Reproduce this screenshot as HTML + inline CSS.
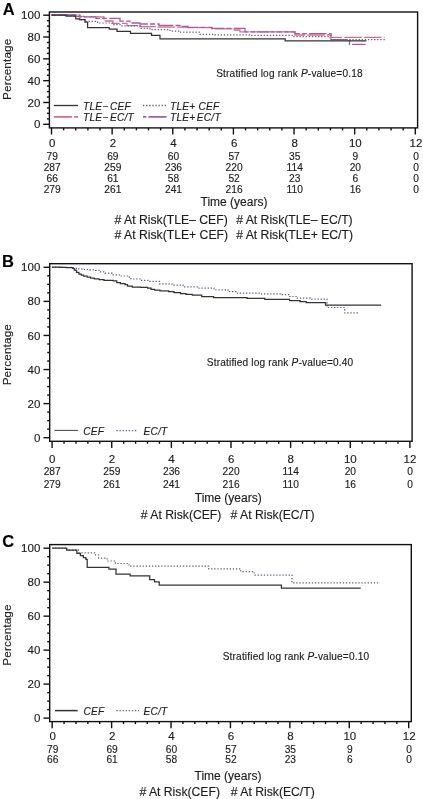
<!DOCTYPE html>
<html><head><meta charset="utf-8"><title>Kaplan-Meier curves</title>
<style>html,body{margin:0;padding:0;background:#fff;}svg{display:block;will-change:transform;filter:blur(0.3px);}text{font-family:"Liberation Sans", sans-serif;stroke:#222;stroke-width:0.15px;}</style>
</head><body>
<svg width="423" height="799" viewBox="0 0 423 799" font-family="'Liberation Sans', sans-serif">
<rect x="0" y="0" width="423" height="799" fill="#fff"/>
<text x="0" y="0" font-size="16.5" font-weight="bold" fill="#000" transform="translate(2.8 14.8)">A</text>
<rect x="49.4" y="12" width="368.2" height="115.9" fill="none" stroke="#111111" stroke-width="1.4"/>
<line x1="43.2" y1="124.3" x2="49.4" y2="124.3" stroke="#111111" stroke-width="1.4"/>
<text x="40.3" y="128.4" font-size="11.5" text-anchor="end" fill="#1c1c1c" >0</text>
<line x1="46.9" y1="118.84" x2="49.4" y2="118.84" stroke="#111111" stroke-width="1.4"/>
<line x1="46.9" y1="113.39" x2="49.4" y2="113.39" stroke="#111111" stroke-width="1.4"/>
<line x1="46.9" y1="107.94" x2="49.4" y2="107.94" stroke="#111111" stroke-width="1.4"/>
<line x1="43.2" y1="102.48" x2="49.4" y2="102.48" stroke="#111111" stroke-width="1.4"/>
<text x="40.3" y="106.58" font-size="11.5" text-anchor="end" fill="#1c1c1c" >20</text>
<line x1="46.9" y1="97.03" x2="49.4" y2="97.03" stroke="#111111" stroke-width="1.4"/>
<line x1="46.9" y1="91.57" x2="49.4" y2="91.57" stroke="#111111" stroke-width="1.4"/>
<line x1="46.9" y1="86.11" x2="49.4" y2="86.11" stroke="#111111" stroke-width="1.4"/>
<line x1="43.2" y1="80.66" x2="49.4" y2="80.66" stroke="#111111" stroke-width="1.4"/>
<text x="40.3" y="84.76" font-size="11.5" text-anchor="end" fill="#1c1c1c" >40</text>
<line x1="46.9" y1="75.2" x2="49.4" y2="75.2" stroke="#111111" stroke-width="1.4"/>
<line x1="46.9" y1="69.75" x2="49.4" y2="69.75" stroke="#111111" stroke-width="1.4"/>
<line x1="46.9" y1="64.29" x2="49.4" y2="64.29" stroke="#111111" stroke-width="1.4"/>
<line x1="43.2" y1="58.84" x2="49.4" y2="58.84" stroke="#111111" stroke-width="1.4"/>
<text x="40.3" y="62.94" font-size="11.5" text-anchor="end" fill="#1c1c1c" >60</text>
<line x1="46.9" y1="53.38" x2="49.4" y2="53.38" stroke="#111111" stroke-width="1.4"/>
<line x1="46.9" y1="47.93" x2="49.4" y2="47.93" stroke="#111111" stroke-width="1.4"/>
<line x1="46.9" y1="42.47" x2="49.4" y2="42.47" stroke="#111111" stroke-width="1.4"/>
<line x1="43.2" y1="37.02" x2="49.4" y2="37.02" stroke="#111111" stroke-width="1.4"/>
<text x="40.3" y="41.12" font-size="11.5" text-anchor="end" fill="#1c1c1c" >80</text>
<line x1="46.9" y1="31.56" x2="49.4" y2="31.56" stroke="#111111" stroke-width="1.4"/>
<line x1="46.9" y1="26.11" x2="49.4" y2="26.11" stroke="#111111" stroke-width="1.4"/>
<line x1="46.9" y1="20.66" x2="49.4" y2="20.66" stroke="#111111" stroke-width="1.4"/>
<line x1="43.2" y1="15.2" x2="49.4" y2="15.2" stroke="#111111" stroke-width="1.4"/>
<text x="40.3" y="19.3" font-size="11.5" text-anchor="end" fill="#1c1c1c" >100</text>
<line x1="51.5" y1="127.9" x2="51.5" y2="134.5" stroke="#111111" stroke-width="1.4"/>
<text x="52.2" y="146.9" font-size="11.5" text-anchor="middle" fill="#1c1c1c" >0</text>
<line x1="63.63" y1="127.9" x2="63.63" y2="130.4" stroke="#111111" stroke-width="1.4"/>
<line x1="75.75" y1="127.9" x2="75.75" y2="130.4" stroke="#111111" stroke-width="1.4"/>
<line x1="87.88" y1="127.9" x2="87.88" y2="130.4" stroke="#111111" stroke-width="1.4"/>
<line x1="100.01" y1="127.9" x2="100.01" y2="130.4" stroke="#111111" stroke-width="1.4"/>
<line x1="112.13" y1="127.9" x2="112.13" y2="134.5" stroke="#111111" stroke-width="1.4"/>
<text x="112.83" y="146.9" font-size="11.5" text-anchor="middle" fill="#1c1c1c" >2</text>
<line x1="124.26" y1="127.9" x2="124.26" y2="130.4" stroke="#111111" stroke-width="1.4"/>
<line x1="136.39" y1="127.9" x2="136.39" y2="130.4" stroke="#111111" stroke-width="1.4"/>
<line x1="148.51" y1="127.9" x2="148.51" y2="130.4" stroke="#111111" stroke-width="1.4"/>
<line x1="160.64" y1="127.9" x2="160.64" y2="130.4" stroke="#111111" stroke-width="1.4"/>
<line x1="172.77" y1="127.9" x2="172.77" y2="134.5" stroke="#111111" stroke-width="1.4"/>
<text x="173.47" y="146.9" font-size="11.5" text-anchor="middle" fill="#1c1c1c" >4</text>
<line x1="184.89" y1="127.9" x2="184.89" y2="130.4" stroke="#111111" stroke-width="1.4"/>
<line x1="197.02" y1="127.9" x2="197.02" y2="130.4" stroke="#111111" stroke-width="1.4"/>
<line x1="209.15" y1="127.9" x2="209.15" y2="130.4" stroke="#111111" stroke-width="1.4"/>
<line x1="221.27" y1="127.9" x2="221.27" y2="130.4" stroke="#111111" stroke-width="1.4"/>
<line x1="233.4" y1="127.9" x2="233.4" y2="134.5" stroke="#111111" stroke-width="1.4"/>
<text x="234.1" y="146.9" font-size="11.5" text-anchor="middle" fill="#1c1c1c" >6</text>
<line x1="245.53" y1="127.9" x2="245.53" y2="130.4" stroke="#111111" stroke-width="1.4"/>
<line x1="257.65" y1="127.9" x2="257.65" y2="130.4" stroke="#111111" stroke-width="1.4"/>
<line x1="269.78" y1="127.9" x2="269.78" y2="130.4" stroke="#111111" stroke-width="1.4"/>
<line x1="281.91" y1="127.9" x2="281.91" y2="130.4" stroke="#111111" stroke-width="1.4"/>
<line x1="294.03" y1="127.9" x2="294.03" y2="134.5" stroke="#111111" stroke-width="1.4"/>
<text x="294.73" y="146.9" font-size="11.5" text-anchor="middle" fill="#1c1c1c" >8</text>
<line x1="306.16" y1="127.9" x2="306.16" y2="130.4" stroke="#111111" stroke-width="1.4"/>
<line x1="318.29" y1="127.9" x2="318.29" y2="130.4" stroke="#111111" stroke-width="1.4"/>
<line x1="330.41" y1="127.9" x2="330.41" y2="130.4" stroke="#111111" stroke-width="1.4"/>
<line x1="342.54" y1="127.9" x2="342.54" y2="130.4" stroke="#111111" stroke-width="1.4"/>
<line x1="354.67" y1="127.9" x2="354.67" y2="134.5" stroke="#111111" stroke-width="1.4"/>
<text x="355.37" y="146.9" font-size="11.5" text-anchor="middle" fill="#1c1c1c" >10</text>
<line x1="366.79" y1="127.9" x2="366.79" y2="130.4" stroke="#111111" stroke-width="1.4"/>
<line x1="378.92" y1="127.9" x2="378.92" y2="130.4" stroke="#111111" stroke-width="1.4"/>
<line x1="391.05" y1="127.9" x2="391.05" y2="130.4" stroke="#111111" stroke-width="1.4"/>
<line x1="403.17" y1="127.9" x2="403.17" y2="130.4" stroke="#111111" stroke-width="1.4"/>
<line x1="415.3" y1="127.9" x2="415.3" y2="134.5" stroke="#111111" stroke-width="1.4"/>
<text x="416" y="146.9" font-size="11.5" text-anchor="middle" fill="#1c1c1c" >12</text>
<text x="0" y="0" font-size="11.8" letter-spacing="0.1" text-anchor="middle" fill="#1c1c1c" transform="translate(11 69.3) rotate(-90)">Percentage</text>
<text x="216.2" y="77.3" font-size="10.1" letter-spacing="0.17" fill="#1c1c1c">Stratified log rank <tspan font-style="italic">P</tspan>-value=0.18</text>
<path d="M51.5 15H75V16.3H84V16.9H104V21H113V23.4H127V25.6H140V26.6H157V27.2H188V27.6H212V28.9H232V30H240V31.8H295V35H331V37.4H384.5" fill="none" stroke="#d9707a" stroke-width="1.3" stroke-dasharray="17.5 2.2" stroke-linejoin="miter" stroke-linecap="butt" opacity="1"/>
<path d="M51.5 15H80V16.8H96V18.3H120V21.1H130V23H140V24H159V25.5H180V26.5H188V27.4H212V28.3H245V31.9H295V33.6H331V39.6H349.5V44.4H365.5" fill="none" stroke="#a85aa8" stroke-width="1.3" stroke-dasharray="5 2.2 17.5 2.2" stroke-linejoin="miter" stroke-linecap="butt" opacity="1"/>
<path d="M51.5 15H78.4V17.5H80V19.8H84.5V21.4H97.6V23H112V24.6H120V25.8H140V28.3H150V29.7H170V31.1H180V32.2H200V34.3H215V34.8H250V35.4H293V36.7H330V39.6H386.5" fill="none" stroke="#5a5a8e" stroke-width="1.2" stroke-dasharray="1.3 1.8" stroke-linejoin="miter" stroke-linecap="butt" opacity="1"/>
<path d="M51.5 15H66V16H75.8V18.8H79.4V19.6H85V22.2H87.6V27.5H109.2V29.1H117V31.4H130.5V33.3H151.5V35.4H160V38.9H285.2V40.9H366.5" fill="none" stroke="#333333" stroke-width="1.25" stroke-linejoin="miter" stroke-linecap="butt" opacity="1"/>
<line x1="53.9" y1="105.5" x2="78" y2="105.5" stroke="#333333" stroke-width="1.3"/>
<text x="83" y="109.6" font-size="10.1" text-anchor="start" font-style="italic" fill="#1c1c1c" letter-spacing="0.25">TLE−<tspan dx="1.6">CEF</tspan></text>
<line x1="53.9" y1="116.9" x2="78" y2="116.9" stroke="#d9707a" stroke-width="1.6" stroke-dasharray="18 2.3"/>
<text x="83" y="120.7" font-size="10.1" text-anchor="start" font-style="italic" fill="#1c1c1c" letter-spacing="0.25">TLE−<tspan dx="1.6">EC/T</tspan></text>
<line x1="143" y1="105.5" x2="166.5" y2="105.5" stroke="#5a5a8e" stroke-width="1.3" stroke-dasharray="1.3 1.8"/>
<text x="170" y="109.9" font-size="10.1" text-anchor="start" font-style="italic" fill="#1c1c1c" letter-spacing="0.25">TLE+ CEF</text>
<line x1="143" y1="116.9" x2="166.5" y2="116.9" stroke="#a85aa8" stroke-width="1.6" stroke-dasharray="3.2 2.3 18 2.3"/>
<text x="170" y="120.6" font-size="10.1" text-anchor="start" font-style="italic" fill="#1c1c1c" letter-spacing="0.25">TLE+<tspan dx="1.4">EC/T</tspan></text>
<text x="52.2" y="160.2" font-size="10.2" text-anchor="middle" fill="#1c1c1c" >79</text>
<text x="112.83" y="160.2" font-size="10.2" text-anchor="middle" fill="#1c1c1c" >69</text>
<text x="173.47" y="160.2" font-size="10.2" text-anchor="middle" fill="#1c1c1c" >60</text>
<text x="234.1" y="160.2" font-size="10.2" text-anchor="middle" fill="#1c1c1c" >57</text>
<text x="294.73" y="160.2" font-size="10.2" text-anchor="middle" fill="#1c1c1c" >35</text>
<text x="355.37" y="160.2" font-size="10.2" text-anchor="middle" fill="#1c1c1c" >9</text>
<text x="416" y="160.2" font-size="10.2" text-anchor="middle" fill="#1c1c1c" >0</text>
<text x="52.2" y="171.3" font-size="10.2" text-anchor="middle" fill="#1c1c1c" >287</text>
<text x="112.83" y="171.3" font-size="10.2" text-anchor="middle" fill="#1c1c1c" >259</text>
<text x="173.47" y="171.3" font-size="10.2" text-anchor="middle" fill="#1c1c1c" >236</text>
<text x="234.1" y="171.3" font-size="10.2" text-anchor="middle" fill="#1c1c1c" >220</text>
<text x="294.73" y="171.3" font-size="10.2" text-anchor="middle" fill="#1c1c1c" >114</text>
<text x="355.37" y="171.3" font-size="10.2" text-anchor="middle" fill="#1c1c1c" >20</text>
<text x="416" y="171.3" font-size="10.2" text-anchor="middle" fill="#1c1c1c" >0</text>
<text x="52.2" y="182.4" font-size="10.2" text-anchor="middle" fill="#1c1c1c" >66</text>
<text x="112.83" y="182.4" font-size="10.2" text-anchor="middle" fill="#1c1c1c" >61</text>
<text x="173.47" y="182.4" font-size="10.2" text-anchor="middle" fill="#1c1c1c" >58</text>
<text x="234.1" y="182.4" font-size="10.2" text-anchor="middle" fill="#1c1c1c" >52</text>
<text x="294.73" y="182.4" font-size="10.2" text-anchor="middle" fill="#1c1c1c" >23</text>
<text x="355.37" y="182.4" font-size="10.2" text-anchor="middle" fill="#1c1c1c" >6</text>
<text x="416" y="182.4" font-size="10.2" text-anchor="middle" fill="#1c1c1c" >0</text>
<text x="52.2" y="193.4" font-size="10.2" text-anchor="middle" fill="#1c1c1c" >279</text>
<text x="112.83" y="193.4" font-size="10.2" text-anchor="middle" fill="#1c1c1c" >261</text>
<text x="173.47" y="193.4" font-size="10.2" text-anchor="middle" fill="#1c1c1c" >241</text>
<text x="234.1" y="193.4" font-size="10.2" text-anchor="middle" fill="#1c1c1c" >216</text>
<text x="294.73" y="193.4" font-size="10.2" text-anchor="middle" fill="#1c1c1c" >110</text>
<text x="355.37" y="193.4" font-size="10.2" text-anchor="middle" fill="#1c1c1c" >16</text>
<text x="416" y="193.4" font-size="10.2" text-anchor="middle" fill="#1c1c1c" >0</text>
<text x="234" y="206.2" font-size="12" text-anchor="middle" fill="#1c1c1c" >Time (years)</text>
<text x="114.6" y="223.8" font-size="12.2" text-anchor="start" fill="#1c1c1c" ># At Risk(TLE– CEF)</text>
<text x="236.2" y="223.8" font-size="12.2" text-anchor="start" fill="#1c1c1c" ># At Risk(TLE– EC/T)</text>
<text x="114.6" y="239.2" font-size="12.2" text-anchor="start" fill="#1c1c1c" ># At Risk(TLE+ CEF)</text>
<text x="236.2" y="239.2" font-size="12.2" text-anchor="start" fill="#1c1c1c" ># At Risk(TLE+ EC/T)</text>
<text x="0" y="0" font-size="16.5" font-weight="bold" fill="#000" transform="translate(2.1 266.8)">B</text>
<rect x="49.7" y="263.7" width="362.4" height="177.6" fill="none" stroke="#111111" stroke-width="1.4"/>
<line x1="43.5" y1="437.7" x2="49.7" y2="437.7" stroke="#111111" stroke-width="1.4"/>
<text x="40.3" y="441.8" font-size="11.5" text-anchor="end" fill="#1c1c1c" >0</text>
<line x1="47.2" y1="429.18" x2="49.7" y2="429.18" stroke="#111111" stroke-width="1.4"/>
<line x1="47.2" y1="420.66" x2="49.7" y2="420.66" stroke="#111111" stroke-width="1.4"/>
<line x1="47.2" y1="412.14" x2="49.7" y2="412.14" stroke="#111111" stroke-width="1.4"/>
<line x1="43.5" y1="403.62" x2="49.7" y2="403.62" stroke="#111111" stroke-width="1.4"/>
<text x="40.3" y="407.72" font-size="11.5" text-anchor="end" fill="#1c1c1c" >20</text>
<line x1="47.2" y1="395.1" x2="49.7" y2="395.1" stroke="#111111" stroke-width="1.4"/>
<line x1="47.2" y1="386.58" x2="49.7" y2="386.58" stroke="#111111" stroke-width="1.4"/>
<line x1="47.2" y1="378.06" x2="49.7" y2="378.06" stroke="#111111" stroke-width="1.4"/>
<line x1="43.5" y1="369.54" x2="49.7" y2="369.54" stroke="#111111" stroke-width="1.4"/>
<text x="40.3" y="373.64" font-size="11.5" text-anchor="end" fill="#1c1c1c" >40</text>
<line x1="47.2" y1="361.02" x2="49.7" y2="361.02" stroke="#111111" stroke-width="1.4"/>
<line x1="47.2" y1="352.5" x2="49.7" y2="352.5" stroke="#111111" stroke-width="1.4"/>
<line x1="47.2" y1="343.98" x2="49.7" y2="343.98" stroke="#111111" stroke-width="1.4"/>
<line x1="43.5" y1="335.46" x2="49.7" y2="335.46" stroke="#111111" stroke-width="1.4"/>
<text x="40.3" y="339.56" font-size="11.5" text-anchor="end" fill="#1c1c1c" >60</text>
<line x1="47.2" y1="326.94" x2="49.7" y2="326.94" stroke="#111111" stroke-width="1.4"/>
<line x1="47.2" y1="318.42" x2="49.7" y2="318.42" stroke="#111111" stroke-width="1.4"/>
<line x1="47.2" y1="309.9" x2="49.7" y2="309.9" stroke="#111111" stroke-width="1.4"/>
<line x1="43.5" y1="301.38" x2="49.7" y2="301.38" stroke="#111111" stroke-width="1.4"/>
<text x="40.3" y="305.48" font-size="11.5" text-anchor="end" fill="#1c1c1c" >80</text>
<line x1="47.2" y1="292.86" x2="49.7" y2="292.86" stroke="#111111" stroke-width="1.4"/>
<line x1="47.2" y1="284.34" x2="49.7" y2="284.34" stroke="#111111" stroke-width="1.4"/>
<line x1="47.2" y1="275.82" x2="49.7" y2="275.82" stroke="#111111" stroke-width="1.4"/>
<line x1="43.5" y1="267.3" x2="49.7" y2="267.3" stroke="#111111" stroke-width="1.4"/>
<text x="40.3" y="271.4" font-size="11.5" text-anchor="end" fill="#1c1c1c" >100</text>
<line x1="52.1" y1="441.3" x2="52.1" y2="447.9" stroke="#111111" stroke-width="1.4"/>
<text x="52.2" y="462.6" font-size="11.5" text-anchor="middle" fill="#1c1c1c" >0</text>
<line x1="64.03" y1="441.3" x2="64.03" y2="443.8" stroke="#111111" stroke-width="1.4"/>
<line x1="75.95" y1="441.3" x2="75.95" y2="443.8" stroke="#111111" stroke-width="1.4"/>
<line x1="87.88" y1="441.3" x2="87.88" y2="443.8" stroke="#111111" stroke-width="1.4"/>
<line x1="99.81" y1="441.3" x2="99.81" y2="443.8" stroke="#111111" stroke-width="1.4"/>
<line x1="111.73" y1="441.3" x2="111.73" y2="447.9" stroke="#111111" stroke-width="1.4"/>
<text x="111.83" y="462.6" font-size="11.5" text-anchor="middle" fill="#1c1c1c" >2</text>
<line x1="123.66" y1="441.3" x2="123.66" y2="443.8" stroke="#111111" stroke-width="1.4"/>
<line x1="135.59" y1="441.3" x2="135.59" y2="443.8" stroke="#111111" stroke-width="1.4"/>
<line x1="147.51" y1="441.3" x2="147.51" y2="443.8" stroke="#111111" stroke-width="1.4"/>
<line x1="159.44" y1="441.3" x2="159.44" y2="443.8" stroke="#111111" stroke-width="1.4"/>
<line x1="171.37" y1="441.3" x2="171.37" y2="447.9" stroke="#111111" stroke-width="1.4"/>
<text x="171.47" y="462.6" font-size="11.5" text-anchor="middle" fill="#1c1c1c" >4</text>
<line x1="183.29" y1="441.3" x2="183.29" y2="443.8" stroke="#111111" stroke-width="1.4"/>
<line x1="195.22" y1="441.3" x2="195.22" y2="443.8" stroke="#111111" stroke-width="1.4"/>
<line x1="207.15" y1="441.3" x2="207.15" y2="443.8" stroke="#111111" stroke-width="1.4"/>
<line x1="219.07" y1="441.3" x2="219.07" y2="443.8" stroke="#111111" stroke-width="1.4"/>
<line x1="231" y1="441.3" x2="231" y2="447.9" stroke="#111111" stroke-width="1.4"/>
<text x="231.1" y="462.6" font-size="11.5" text-anchor="middle" fill="#1c1c1c" >6</text>
<line x1="242.93" y1="441.3" x2="242.93" y2="443.8" stroke="#111111" stroke-width="1.4"/>
<line x1="254.85" y1="441.3" x2="254.85" y2="443.8" stroke="#111111" stroke-width="1.4"/>
<line x1="266.78" y1="441.3" x2="266.78" y2="443.8" stroke="#111111" stroke-width="1.4"/>
<line x1="278.71" y1="441.3" x2="278.71" y2="443.8" stroke="#111111" stroke-width="1.4"/>
<line x1="290.63" y1="441.3" x2="290.63" y2="447.9" stroke="#111111" stroke-width="1.4"/>
<text x="290.73" y="462.6" font-size="11.5" text-anchor="middle" fill="#1c1c1c" >8</text>
<line x1="302.56" y1="441.3" x2="302.56" y2="443.8" stroke="#111111" stroke-width="1.4"/>
<line x1="314.49" y1="441.3" x2="314.49" y2="443.8" stroke="#111111" stroke-width="1.4"/>
<line x1="326.41" y1="441.3" x2="326.41" y2="443.8" stroke="#111111" stroke-width="1.4"/>
<line x1="338.34" y1="441.3" x2="338.34" y2="443.8" stroke="#111111" stroke-width="1.4"/>
<line x1="350.27" y1="441.3" x2="350.27" y2="447.9" stroke="#111111" stroke-width="1.4"/>
<text x="350.37" y="462.6" font-size="11.5" text-anchor="middle" fill="#1c1c1c" >10</text>
<line x1="362.19" y1="441.3" x2="362.19" y2="443.8" stroke="#111111" stroke-width="1.4"/>
<line x1="374.12" y1="441.3" x2="374.12" y2="443.8" stroke="#111111" stroke-width="1.4"/>
<line x1="386.05" y1="441.3" x2="386.05" y2="443.8" stroke="#111111" stroke-width="1.4"/>
<line x1="397.97" y1="441.3" x2="397.97" y2="443.8" stroke="#111111" stroke-width="1.4"/>
<line x1="409.9" y1="441.3" x2="409.9" y2="447.9" stroke="#111111" stroke-width="1.4"/>
<text x="410" y="462.6" font-size="11.5" text-anchor="middle" fill="#1c1c1c" >12</text>
<text x="0" y="0" font-size="11.8" letter-spacing="0.1" text-anchor="middle" fill="#1c1c1c" transform="translate(10.9 354.7) rotate(-90)">Percentage</text>
<text x="206.8" y="365.8" font-size="10.1" letter-spacing="0.17" fill="#1c1c1c">Stratified log rank <tspan font-style="italic">P</tspan>-value=0.40</text>
<path d="M51.9 267.2H64.2V267.4H73V268.3H77.7V268.9H83.6V269.5H89.6V269.9H95.5V270.3H99V271.9H105V273.2H112V274.8H119.2V276H127.5V277.2H131V279H140.5V280.4H149.3V281.4H159.5V283.9H172V285.2H183V286.9H199V288.2H214V289.8H228V291.7H237.5V293.2H261.3V293.8H280.2V294.7H289.6V296.5H296.7V298.2H310V299.2H327V307.5H344.8V312.9H359" fill="none" stroke="#5a5a8e" stroke-width="1.2" stroke-dasharray="1.3 1.8" stroke-linejoin="miter" stroke-linecap="butt" opacity="1"/>
<path d="M51.9 267.2H60V267.3H66V267.6H73V268.3H74.2V270.1H76.5V272.3H78.9V274H81.3V275.2H83.6V276H87.2V277H90.7V278H94.3V278.9H99V279.6H104V280.3H113.3V280.9H116.8V282.7H120.4V283.7H125.1V284.7H127.5V286.2H132.2V287H140.5V287.4H147.6V288H151.1V289.4H154.6V290H160V290.8H168.6V291.7H174V292.7H180.5V293.6H186V294.3H192.3V295H201.7V296.7H213.6V297.7H247V298.3H264.8V299.4H289.6V300.6H300V301.5H306.2V302.5H325.5V305.1H381" fill="none" stroke="#333333" stroke-width="1.25" stroke-linejoin="miter" stroke-linecap="butt" opacity="1"/>
<line x1="54.5" y1="430.4" x2="77.9" y2="430.4" stroke="#444" stroke-width="1"/>
<text x="83.2" y="434.5" font-size="10.1" text-anchor="start" font-style="italic" fill="#1c1c1c" letter-spacing="0.25">CEF</text>
<line x1="116.4" y1="430.6" x2="137.7" y2="430.6" stroke="#5a5a8e" stroke-width="1.2" stroke-dasharray="1.3 1.8"/>
<text x="143.5" y="434.5" font-size="10.1" text-anchor="start" font-style="italic" fill="#1c1c1c" letter-spacing="0.25">EC/T</text>
<text x="52.2" y="474.7" font-size="10.2" text-anchor="middle" fill="#1c1c1c" >287</text>
<text x="111.83" y="474.7" font-size="10.2" text-anchor="middle" fill="#1c1c1c" >259</text>
<text x="171.47" y="474.7" font-size="10.2" text-anchor="middle" fill="#1c1c1c" >236</text>
<text x="231.1" y="474.7" font-size="10.2" text-anchor="middle" fill="#1c1c1c" >220</text>
<text x="290.73" y="474.7" font-size="10.2" text-anchor="middle" fill="#1c1c1c" >114</text>
<text x="350.37" y="474.7" font-size="10.2" text-anchor="middle" fill="#1c1c1c" >20</text>
<text x="410" y="474.7" font-size="10.2" text-anchor="middle" fill="#1c1c1c" >0</text>
<text x="52.2" y="487.8" font-size="10.2" text-anchor="middle" fill="#1c1c1c" >279</text>
<text x="111.83" y="487.8" font-size="10.2" text-anchor="middle" fill="#1c1c1c" >261</text>
<text x="171.47" y="487.8" font-size="10.2" text-anchor="middle" fill="#1c1c1c" >241</text>
<text x="231.1" y="487.8" font-size="10.2" text-anchor="middle" fill="#1c1c1c" >216</text>
<text x="290.73" y="487.8" font-size="10.2" text-anchor="middle" fill="#1c1c1c" >110</text>
<text x="350.37" y="487.8" font-size="10.2" text-anchor="middle" fill="#1c1c1c" >16</text>
<text x="410" y="487.8" font-size="10.2" text-anchor="middle" fill="#1c1c1c" >0</text>
<text x="228.2" y="501.9" font-size="12" text-anchor="middle" fill="#1c1c1c" >Time (years)</text>
<text x="140.8" y="518.9" font-size="12.2" text-anchor="start" fill="#1c1c1c" ># At Risk(CEF)</text>
<text x="230.6" y="518.9" font-size="12.2" text-anchor="start" fill="#1c1c1c" ># At Risk(EC/T)</text>
<text x="0" y="0" font-size="16.5" font-weight="bold" fill="#000" transform="translate(2.2 547)">C</text>
<rect x="49.7" y="544.6" width="361.6" height="177" fill="none" stroke="#111111" stroke-width="1.4"/>
<line x1="43.5" y1="718.1" x2="49.7" y2="718.1" stroke="#111111" stroke-width="1.4"/>
<text x="40.3" y="722.2" font-size="11.5" text-anchor="end" fill="#1c1c1c" >0</text>
<line x1="47.2" y1="709.61" x2="49.7" y2="709.61" stroke="#111111" stroke-width="1.4"/>
<line x1="47.2" y1="701.11" x2="49.7" y2="701.11" stroke="#111111" stroke-width="1.4"/>
<line x1="47.2" y1="692.62" x2="49.7" y2="692.62" stroke="#111111" stroke-width="1.4"/>
<line x1="43.5" y1="684.12" x2="49.7" y2="684.12" stroke="#111111" stroke-width="1.4"/>
<text x="40.3" y="688.22" font-size="11.5" text-anchor="end" fill="#1c1c1c" >20</text>
<line x1="47.2" y1="675.62" x2="49.7" y2="675.62" stroke="#111111" stroke-width="1.4"/>
<line x1="47.2" y1="667.13" x2="49.7" y2="667.13" stroke="#111111" stroke-width="1.4"/>
<line x1="47.2" y1="658.63" x2="49.7" y2="658.63" stroke="#111111" stroke-width="1.4"/>
<line x1="43.5" y1="650.14" x2="49.7" y2="650.14" stroke="#111111" stroke-width="1.4"/>
<text x="40.3" y="654.24" font-size="11.5" text-anchor="end" fill="#1c1c1c" >40</text>
<line x1="47.2" y1="641.64" x2="49.7" y2="641.64" stroke="#111111" stroke-width="1.4"/>
<line x1="47.2" y1="633.15" x2="49.7" y2="633.15" stroke="#111111" stroke-width="1.4"/>
<line x1="47.2" y1="624.66" x2="49.7" y2="624.66" stroke="#111111" stroke-width="1.4"/>
<line x1="43.5" y1="616.16" x2="49.7" y2="616.16" stroke="#111111" stroke-width="1.4"/>
<text x="40.3" y="620.26" font-size="11.5" text-anchor="end" fill="#1c1c1c" >60</text>
<line x1="47.2" y1="607.67" x2="49.7" y2="607.67" stroke="#111111" stroke-width="1.4"/>
<line x1="47.2" y1="599.17" x2="49.7" y2="599.17" stroke="#111111" stroke-width="1.4"/>
<line x1="47.2" y1="590.68" x2="49.7" y2="590.68" stroke="#111111" stroke-width="1.4"/>
<line x1="43.5" y1="582.18" x2="49.7" y2="582.18" stroke="#111111" stroke-width="1.4"/>
<text x="40.3" y="586.28" font-size="11.5" text-anchor="end" fill="#1c1c1c" >80</text>
<line x1="47.2" y1="573.69" x2="49.7" y2="573.69" stroke="#111111" stroke-width="1.4"/>
<line x1="47.2" y1="565.19" x2="49.7" y2="565.19" stroke="#111111" stroke-width="1.4"/>
<line x1="47.2" y1="556.7" x2="49.7" y2="556.7" stroke="#111111" stroke-width="1.4"/>
<line x1="43.5" y1="548.2" x2="49.7" y2="548.2" stroke="#111111" stroke-width="1.4"/>
<text x="40.3" y="552.3" font-size="11.5" text-anchor="end" fill="#1c1c1c" >100</text>
<line x1="52.2" y1="721.6" x2="52.2" y2="728.2" stroke="#111111" stroke-width="1.4"/>
<text x="52.7" y="739.9" font-size="11.5" text-anchor="middle" fill="#1c1c1c" >0</text>
<line x1="64.08" y1="721.6" x2="64.08" y2="724.1" stroke="#111111" stroke-width="1.4"/>
<line x1="75.97" y1="721.6" x2="75.97" y2="724.1" stroke="#111111" stroke-width="1.4"/>
<line x1="87.85" y1="721.6" x2="87.85" y2="724.1" stroke="#111111" stroke-width="1.4"/>
<line x1="99.73" y1="721.6" x2="99.73" y2="724.1" stroke="#111111" stroke-width="1.4"/>
<line x1="111.62" y1="721.6" x2="111.62" y2="728.2" stroke="#111111" stroke-width="1.4"/>
<text x="112.12" y="739.9" font-size="11.5" text-anchor="middle" fill="#1c1c1c" >2</text>
<line x1="123.5" y1="721.6" x2="123.5" y2="724.1" stroke="#111111" stroke-width="1.4"/>
<line x1="135.38" y1="721.6" x2="135.38" y2="724.1" stroke="#111111" stroke-width="1.4"/>
<line x1="147.27" y1="721.6" x2="147.27" y2="724.1" stroke="#111111" stroke-width="1.4"/>
<line x1="159.15" y1="721.6" x2="159.15" y2="724.1" stroke="#111111" stroke-width="1.4"/>
<line x1="171.03" y1="721.6" x2="171.03" y2="728.2" stroke="#111111" stroke-width="1.4"/>
<text x="171.53" y="739.9" font-size="11.5" text-anchor="middle" fill="#1c1c1c" >4</text>
<line x1="182.92" y1="721.6" x2="182.92" y2="724.1" stroke="#111111" stroke-width="1.4"/>
<line x1="194.8" y1="721.6" x2="194.8" y2="724.1" stroke="#111111" stroke-width="1.4"/>
<line x1="206.68" y1="721.6" x2="206.68" y2="724.1" stroke="#111111" stroke-width="1.4"/>
<line x1="218.57" y1="721.6" x2="218.57" y2="724.1" stroke="#111111" stroke-width="1.4"/>
<line x1="230.45" y1="721.6" x2="230.45" y2="728.2" stroke="#111111" stroke-width="1.4"/>
<text x="230.95" y="739.9" font-size="11.5" text-anchor="middle" fill="#1c1c1c" >6</text>
<line x1="242.33" y1="721.6" x2="242.33" y2="724.1" stroke="#111111" stroke-width="1.4"/>
<line x1="254.22" y1="721.6" x2="254.22" y2="724.1" stroke="#111111" stroke-width="1.4"/>
<line x1="266.1" y1="721.6" x2="266.1" y2="724.1" stroke="#111111" stroke-width="1.4"/>
<line x1="277.98" y1="721.6" x2="277.98" y2="724.1" stroke="#111111" stroke-width="1.4"/>
<line x1="289.87" y1="721.6" x2="289.87" y2="728.2" stroke="#111111" stroke-width="1.4"/>
<text x="290.37" y="739.9" font-size="11.5" text-anchor="middle" fill="#1c1c1c" >8</text>
<line x1="301.75" y1="721.6" x2="301.75" y2="724.1" stroke="#111111" stroke-width="1.4"/>
<line x1="313.63" y1="721.6" x2="313.63" y2="724.1" stroke="#111111" stroke-width="1.4"/>
<line x1="325.52" y1="721.6" x2="325.52" y2="724.1" stroke="#111111" stroke-width="1.4"/>
<line x1="337.4" y1="721.6" x2="337.4" y2="724.1" stroke="#111111" stroke-width="1.4"/>
<line x1="349.28" y1="721.6" x2="349.28" y2="728.2" stroke="#111111" stroke-width="1.4"/>
<text x="349.78" y="739.9" font-size="11.5" text-anchor="middle" fill="#1c1c1c" >10</text>
<line x1="361.17" y1="721.6" x2="361.17" y2="724.1" stroke="#111111" stroke-width="1.4"/>
<line x1="373.05" y1="721.6" x2="373.05" y2="724.1" stroke="#111111" stroke-width="1.4"/>
<line x1="384.93" y1="721.6" x2="384.93" y2="724.1" stroke="#111111" stroke-width="1.4"/>
<line x1="396.82" y1="721.6" x2="396.82" y2="724.1" stroke="#111111" stroke-width="1.4"/>
<line x1="408.7" y1="721.6" x2="408.7" y2="728.2" stroke="#111111" stroke-width="1.4"/>
<text x="409.2" y="739.9" font-size="11.5" text-anchor="middle" fill="#1c1c1c" >12</text>
<text x="0" y="0" font-size="11.8" letter-spacing="0.1" text-anchor="middle" fill="#1c1c1c" transform="translate(11.2 635) rotate(-90)">Percentage</text>
<text x="222.7" y="659.9" font-size="10.1" letter-spacing="0.17" fill="#1c1c1c">Stratified log rank <tspan font-style="italic">P</tspan>-value=0.10</text>
<path d="M52.2 548H66.5V550.1H78.6V552.9H95.5V555H98.7V558.1H107.1V561H115.4V563.5H129V566.1H208.8V568.9H240.7V571.6H254.2V575.1H292V582.9H379.6" fill="none" stroke="#5a5a8e" stroke-width="1.2" stroke-dasharray="1.3 1.8" stroke-linejoin="miter" stroke-linecap="butt" opacity="1"/>
<path d="M52.2 548H66.8V550.1H76.9V553.3H80.4V555.6H83.4V557.5H85.9V559.4H87.2V567.3H108.9V569.1H116V574.1H130.1V575.8H149.7V579.6H154.5V581.9H159.2V585H281.4V588.1H360.7" fill="none" stroke="#333333" stroke-width="1.25" stroke-linejoin="miter" stroke-linecap="butt" opacity="1"/>
<line x1="55" y1="710.6" x2="77.7" y2="710.6" stroke="#333" stroke-width="1.5"/>
<text x="83.4" y="714.7" font-size="10.1" text-anchor="start" font-style="italic" fill="#1c1c1c" letter-spacing="0.25">CEF</text>
<line x1="116.4" y1="710.6" x2="139" y2="710.6" stroke="#5a5a8e" stroke-width="1.2" stroke-dasharray="1.3 1.8"/>
<text x="143.5" y="714.7" font-size="10.1" text-anchor="start" font-style="italic" fill="#1c1c1c" letter-spacing="0.25">EC/T</text>
<text x="52.7" y="752.6" font-size="10.2" text-anchor="middle" fill="#1c1c1c" >79</text>
<text x="112.12" y="752.6" font-size="10.2" text-anchor="middle" fill="#1c1c1c" >69</text>
<text x="171.53" y="752.6" font-size="10.2" text-anchor="middle" fill="#1c1c1c" >60</text>
<text x="230.95" y="752.6" font-size="10.2" text-anchor="middle" fill="#1c1c1c" >57</text>
<text x="290.37" y="752.6" font-size="10.2" text-anchor="middle" fill="#1c1c1c" >35</text>
<text x="349.78" y="752.6" font-size="10.2" text-anchor="middle" fill="#1c1c1c" >9</text>
<text x="409.2" y="752.6" font-size="10.2" text-anchor="middle" fill="#1c1c1c" >0</text>
<text x="52.7" y="763" font-size="10.2" text-anchor="middle" fill="#1c1c1c" >66</text>
<text x="112.12" y="763" font-size="10.2" text-anchor="middle" fill="#1c1c1c" >61</text>
<text x="171.53" y="763" font-size="10.2" text-anchor="middle" fill="#1c1c1c" >58</text>
<text x="230.95" y="763" font-size="10.2" text-anchor="middle" fill="#1c1c1c" >52</text>
<text x="290.37" y="763" font-size="10.2" text-anchor="middle" fill="#1c1c1c" >23</text>
<text x="349.78" y="763" font-size="10.2" text-anchor="middle" fill="#1c1c1c" >6</text>
<text x="409.2" y="763" font-size="10.2" text-anchor="middle" fill="#1c1c1c" >0</text>
<text x="228" y="779.9" font-size="12" text-anchor="middle" fill="#1c1c1c" >Time (years)</text>
<text x="139.4" y="795.8" font-size="12.2" text-anchor="start" fill="#1c1c1c" ># At Risk(CEF)</text>
<text x="230.8" y="795.8" font-size="12.2" text-anchor="start" fill="#1c1c1c" ># At Risk(EC/T)</text>
</svg>
</body></html>
